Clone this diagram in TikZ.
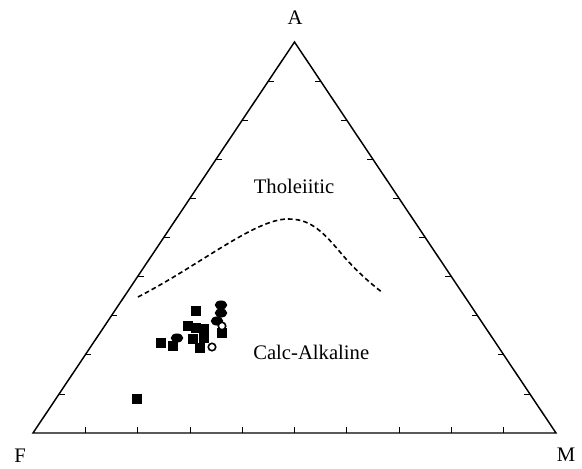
\documentclass[tikz,border=0pt]{standalone}
\usepackage{fontspec}
\setmainfont{Liberation Serif}
\usetikzlibrary{calc,shapes.geometric}
\tikzset{
  sqmark/.style={fill=black,inner sep=0pt,minimum size=7.4pt},
  ovmark/.style={ellipse,fill=black,inner sep=0pt,minimum width=9.4pt,minimum height=6.8pt},
  ringmark/.style={circle,draw=black,fill=white,line width=1.2pt,inner sep=0pt,minimum size=5.6pt},
  lbl/.style={inner sep=0.75pt,font=\fontsize{15.5}{18}\selectfont}
}
\begin{document}
\begin{tikzpicture}[x=0.75pt,y=0.75pt,yscale=-1,xscale=1]
\useasboundingbox (0,0) rectangle (582,468);

%Corners
\coordinate (F) at (33,433);
\coordinate (M) at (556,433);
\coordinate (A) at (294.5,42);

%Triangle
\draw [line width=1.1pt,line join=miter] (F) -- (A) -- (M) -- cycle;

%Ticks
\foreach \k in {1,...,9} {
  \draw [line width=0.55pt] ($(F)!\k/10!(M)$) -- ++(0,-6);
  \draw [line width=0.55pt] ($(F)!\k/10!(A)$) -- ++(6,0);
  \draw [line width=0.55pt] ($(M)!\k/10!(A)$) -- ++(-6,0);
}

%Dashed boundary
\draw [line width=1.2pt,dash pattern={on 3.5pt off 2.3pt}] (138,297) .. controls (200,265) and (255,219) .. (288,219) .. controls (308,219) and (320,228) .. (340,252) .. controls (355,270) and (370,283) .. (383,293);

%Squares
\node [sqmark] (s1) at (196,311) {};
\node [sqmark] (s2) at (188,326) {};
\node [sqmark] (s3) at (196,328) {};
\node [sqmark] (s4) at (204,329) {};
\node [sqmark] (s5) at (161,343) {};
\node [sqmark] (s6) at (173,346) {};
\node [sqmark] (s7) at (193,339) {};
\node [sqmark] (s8) at (204,338) {};
\node [sqmark] (s9) at (200,348) {};
\node [sqmark] (s10) at (222,333) {};
\node [sqmark] (s11) at (137,399) {};

%Filled ovals
\node [ovmark] (e1) at (221,305) {};
\node [ovmark] (e2) at (221,313) {};
\node [ovmark] (e3) at (217,321) {};
\node [ovmark] (e4) at (177,338) {};

%Open circles
\node [ringmark] (c1) at (222,326) {};
\node [ringmark] (c2) at (212,347) {};

% Text Node
\node [lbl] (la) at (295,18) {A};
% Text Node
\node [lbl] (lf) at (20,456) {F};
% Text Node
\node [lbl] (lm) at (566,455) {M};
% Text Node
\node [lbl] (tho) at (294,186) {Tholeiitic};
% Text Node
\node [lbl,anchor=west] (calc) at (252,352) {Calc-Alkaline};

\end{tikzpicture}
\end{document}
